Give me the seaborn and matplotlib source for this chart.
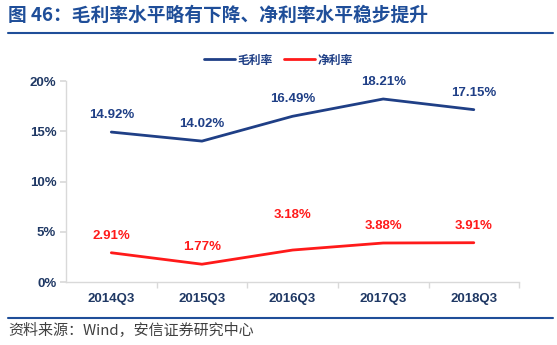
import matplotlib
matplotlib.use("Agg")
import matplotlib.pyplot as plt
import seaborn as sns
import pandas as pd
import matplotlib.lines as mlines

categories = ["2014Q3", "2015Q3", "2016Q3", "2017Q3", "2018Q3"]
gross_margin = [14.92, 14.02, 16.49, 18.21, 17.15]
net_margin = [2.91, 1.77, 3.18, 3.88, 3.91]
series_names = ["毛利率", "净利率"]
y_ticks = [0, 5, 10, 15, 20]

sns.set_theme(style="white")
plt.rcParams['font.family'] = ['Noto Sans CJK SC', 'DejaVu Sans']

navy = "#1F3F86"
red = "#FF1A1A"
tick_col = "#1F3864"
latin = ["Liberation Sans", "DejaVu Sans"]

df = pd.DataFrame({
    "cat": categories * 2,
    "x": list(range(len(categories))) * 2,
    "val": gross_margin + net_margin,
    "series": [series_names[0]] * len(categories) + [series_names[1]] * len(categories),
})

fig = plt.figure(figsize=(5.57, 3.45), dpi=100)
ax = fig.add_axes([0.1185, 0.1826, 0.8135, 0.5826])
sns.lineplot(data=df, x="x", y="val", hue="series", palette=[navy, red],
             linewidth=2.0, ax=ax, legend=False)

ax.set_xlim(-0.5, len(categories) - 0.5)
ax.set_ylim(0, 20)
ax.set_yticks(y_ticks)
ax.set_yticklabels([f"{v}%" for v in y_ticks], fontsize=9.5, fontweight="bold",
                   color=tick_col, family=latin)
ax.set_xticks(range(len(categories)))
ax.set_xticklabels(categories, fontsize=9.5, fontweight="bold", color=tick_col, family=latin)
ax.set_xlabel("")
ax.set_ylabel("")
for s in ["top", "right"]:
    ax.spines[s].set_visible(False)
for s in ["left", "bottom"]:
    ax.spines[s].set_color("#D9D9D9")
    ax.spines[s].set_linewidth(1.0)
ax.tick_params(axis="y", length=4, color="#D9D9D9", pad=3, left=True)
ax.tick_params(axis="x", length=0, pad=8)
ax.set_xticks([i + 0.5 for i in range(len(categories))], minor=True)
ax.tick_params(axis="x", which="minor", length=4, color="#D9D9D9", direction="out", bottom=True)

for i, v in enumerate(gross_margin):
    ax.annotate(f"{v:.2f}%", (i, v), xytext=(0, 8), textcoords="offset points",
                ha="center", va="bottom", fontsize=9.5, fontweight="bold", color=navy,
                family=latin)
for i, v in enumerate(net_margin):
    off = 21 if i == 2 else 8
    ax.annotate(f"{v:.2f}%", (i, v), xytext=(0, off), textcoords="offset points",
                ha="center", va="bottom", fontsize=9.5, fontweight="bold", color=red,
                family=latin)

handles = [mlines.Line2D([], [], color=navy, lw=2), mlines.Line2D([], [], color=red, lw=2)]
leg = fig.legend(handles, series_names, loc="center", bbox_to_anchor=(0.5, 1 - 60 / 345), ncol=2,
                 frameon=False, handlelength=2.6, columnspacing=1.0, handletextpad=0.2,
                 prop={"weight": "bold", "size": 8.5})
for t in leg.get_texts():
    t.set_color(navy)

fig.text(0.014, 1 - 15 / 345, "图 46：毛利率水平略有下降、净利率水平稳步提升", fontsize=13.5,
         fontweight="bold", color="#1F4E99", va="center", ha="left")
fig.add_artist(mlines.Line2D([0.014, 0.993], [1 - 33 / 345, 1 - 33 / 345], color="#1F4E99",
                             lw=1.5, transform=fig.transFigure))
fig.add_artist(mlines.Line2D([0.014, 0.993], [1 - 318 / 345, 1 - 318 / 345], color="#1F4E99",
                             lw=1.5, transform=fig.transFigure))
fig.text(0.014, 1 - 331 / 345, "资料来源：Wind，安信证券研究中心", fontsize=10.8,
         color="#404040", style="italic", va="center", ha="left")

fig.savefig("out.png", dpi=100)
